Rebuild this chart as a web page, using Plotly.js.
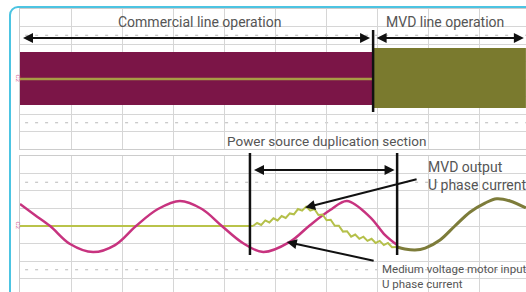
<!DOCTYPE html>
<html>
<head>
<meta charset="utf-8">
<script src="https://cdn.plot.ly/plotly-3.0.1.min.js"></script>
<style>
html,body{margin:0;padding:0;background:#fff;overflow:hidden;width:526px;height:292px;}
#chart{position:absolute;left:0;top:0;width:526px;height:292px;}
#frame{position:absolute;left:9px;top:6px;width:700px;height:500px;border:2px solid #4cc4e2;border-radius:9px;pointer-events:none;box-sizing:border-box;}
</style>
</head>
<body>
<div id="chart"></div>
<div id="frame"></div>
<script>
// ---- data (x in oscilloscope divisions, y in divisions) ----
// Upper trace: compressed time base
const commercialSpan = [0, 6.91];
const commercialTop = [1.54, 1.54];
const commercialBottom = [-1.49, -1.49];
const commercialCenter = [0, 0];
const mvdSpan = [6.91, 9.9];
const mvdTop = [1.77, 1.77];
const mvdBottom = [-1.66, -1.66];

// Lower trace: medium voltage motor input U phase current
const motorX = [0, 0.29, 0.59, 0.98, 1.43, 1.86, 2.27, 2.70, 3.13, 3.56, 3.95, 4.36, 4.76, 5.28, 5.68, 6.07, 6.40, 6.85, 7.14, 7.38];
const motorY = [1.26, 0.63, 0, -1.03, -1.49, -1.09, 0, 0.97, 1.43, 0.97, 0, -0.97, -1.49, -0.91, 0.06, 0.91, 1.43, 0.51, -0.51, -1.09];

// MVD output U phase current (before/within duplication section)
const mvdIdleX = [0, 4.56];
const mvdIdleY = [0, 0];
const mvdRampX = [4.56, 4.64, 4.72, 4.80, 4.88, 4.96, 5.04, 5.12, 5.20, 5.28, 5.36, 5.44, 5.52, 5.60, 5.68, 5.76, 5.84, 5.92, 6.00, 6.08, 6.16, 6.24, 6.32, 6.40, 6.48, 6.56, 6.64, 6.72, 6.80, 6.88, 6.96, 7.04, 7.12, 7.20, 7.28, 7.38];
const mvdRampY = [0.00, 0.17, 0.06, 0.32, 0.20, 0.44, 0.32, 0.57, 0.46, 0.72, 0.67, 0.97, 0.88, 1.11, 0.88, 0.97, 0.63, 0.66, 0.33, 0.36, 0.01, 0.02, -0.32, -0.30, -0.61, -0.49, -0.73, -0.61, -0.85, -0.73, -0.97, -0.85, -1.09, -0.97, -1.21, -1.20];
// MVD output after switch-over
const mvdRunX = [7.38, 7.53, 7.73, 7.93, 8.22, 8.51, 8.81, 9.10, 9.33, 9.59, 9.90];
const mvdRunY = [-1.20, -1.31, -1.37, -1.26, -0.80, 0, 0.80, 1.31, 1.56, 1.43, 1.03];

const txtFont = 'Roboto, "DejaVu Sans", sans-serif';
const txtColor = '#555555';

const traces = [
  {x: commercialSpan, y: commercialBottom, xaxis: 'x2', yaxis: 'y2', mode: 'lines', line: {width: 0, color: '#7b1547'}, hoverinfo: 'skip'},
  {x: commercialSpan, y: commercialTop, xaxis: 'x2', yaxis: 'y2', mode: 'lines', fill: 'tonexty', fillcolor: '#7b1547', line: {width: 0, color: '#7b1547'}, hoverinfo: 'skip'},
  {x: mvdSpan, y: mvdBottom, xaxis: 'x2', yaxis: 'y2', mode: 'lines', line: {width: 0, color: '#7a7a2e'}, hoverinfo: 'skip'},
  {x: mvdSpan, y: mvdTop, xaxis: 'x2', yaxis: 'y2', mode: 'lines', fill: 'tonexty', fillcolor: '#7a7a2e', line: {width: 0, color: '#7a7a2e'}, hoverinfo: 'skip'},
  {x: commercialSpan, y: commercialCenter, xaxis: 'x2', yaxis: 'y2', mode: 'lines', line: {width: 2.5, color: '#a89c45'}, hoverinfo: 'skip'},
  {x: mvdIdleX, y: mvdIdleY, xaxis: 'x', yaxis: 'y', mode: 'lines', line: {width: 2, color: '#b9c34a'}, hoverinfo: 'skip'},
  {x: motorX, y: motorY, xaxis: 'x', yaxis: 'y', mode: 'lines', line: {width: 2.5, color: '#c7337f', shape: 'spline', smoothing: 1}, hoverinfo: 'skip'},
  {x: mvdRampX, y: mvdRampY, xaxis: 'x', yaxis: 'y', mode: 'lines', line: {width: 2, color: '#b5c04a'}, hoverinfo: 'skip'},
  {x: mvdRunX, y: mvdRunY, xaxis: 'x', yaxis: 'y', mode: 'lines', line: {width: 3, color: '#7d7c3a', shape: 'spline', smoothing: 1}, hoverinfo: 'skip'}
];

const gridCol = '#d6d6d6';
const axX = {range: [0, 9.902], dtick: 1, tick0: 0, showgrid: true, gridcolor: gridCol, gridwidth: 1,
  showticklabels: false, ticks: '', zeroline: false, showline: true, mirror: true, linecolor: '#cccccc', linewidth: 1, fixedrange: true};
const axYcommon = {dtick: 1, tick0: 0, showgrid: true, gridcolor: gridCol, gridwidth: 1,
  showticklabels: false, ticks: '', zeroline: false, showline: true, mirror: true, linecolor: '#cccccc', linewidth: 1, fixedrange: true};

function dotted(yref, yv) {
  return {type: 'line', xref: yref === 'y' ? 'x' : 'x2', yref: yref, x0: 0.1, x1: 9.9, y0: yv, y1: yv,
    line: {color: '#b8b8b8', width: 1, dash: '3px,7px'}, layer: 'below'};
}

const layout = {
  width: 526, height: 292,
  margin: {l: 20, r: 0, t: 9, b: 0},
  paper_bgcolor: '#ffffff', plot_bgcolor: '#ffffff',
  showlegend: false,
  xaxis: Object.assign({}, axX, {domain: [0, 1], anchor: 'y'}),
  xaxis2: Object.assign({}, axX, {domain: [0, 1], anchor: 'y2', matches: 'x'}),
  yaxis: Object.assign({}, axYcommon, {domain: [0, 0.4806], range: [-3.771, 4], anchor: 'x'}),
  yaxis2: Object.assign({}, axYcommon, {domain: [0.5053, 1], range: [-4, 4], anchor: 'x2'}),
  shapes: [
    dotted('y2', 2.5), dotted('y2', -2.5), dotted('y', 2.5), dotted('y', -2.5),
    {type: 'line', xref: 'x2', yref: 'paper', x0: 6.91, x1: 6.91, y0: (292 - 30) / 283, y1: (292 - 112) / 283, line: {color: '#111', width: 2.5}, layer: 'above'},
    {type: 'line', xref: 'x', yref: 'paper', x0: 4.50, x1: 4.50, y0: (292 - 153) / 283, y1: (292 - 255) / 283, line: {color: '#111', width: 2.5}, layer: 'above'},
    {type: 'line', xref: 'x', yref: 'paper', x0: 7.38, x1: 7.38, y0: (292 - 153) / 283, y1: (292 - 255) / 283, line: {color: '#111', width: 2.5}, layer: 'above'}
  ],
  annotations: [
    {xref: 'x2', yref: 'y2', x: 3.52, y: 3.26, text: 'Commercial line operation', showarrow: false, font: {family: txtFont, size: 14, color: txtColor}},
    {xref: 'x2', yref: 'y2', x: 8.32, y: 3.26, text: 'MVD line operation', showarrow: false, font: {family: txtFont, size: 14, color: txtColor}},
    {xref: 'x2', yref: 'y2', x: 6.85, y: 2.34, ax: 0.03, ay: 2.34, axref: 'x2', ayref: 'y2', text: '', showarrow: true, arrowside: 'end+start', arrowhead: 2, arrowsize: 1, arrowwidth: 2, arrowcolor: '#111'},
    {xref: 'x2', yref: 'y2', x: 9.86, y: 2.34, ax: 6.95, ay: 2.34, axref: 'x2', ayref: 'y2', text: '', showarrow: true, arrowside: 'end+start', arrowhead: 2, arrowsize: 1, arrowwidth: 2, arrowcolor: '#111'},
    {xref: 'x', yref: 'paper', x: 6.0, y: (292 - 141) / 283, text: 'Power source duplication section', showarrow: false, font: {family: txtFont, size: 13.5, color: txtColor}},
    {xref: 'x', yref: 'y', x: 7.33, y: 3.2, ax: 4.55, ay: 3.2, axref: 'x', ayref: 'y', text: '', showarrow: true, arrowside: 'end+start', arrowhead: 2, arrowsize: 1, arrowwidth: 2, arrowcolor: '#111'},
    {xref: 'x', yref: 'y', x: 7.95, y: 2.86, xanchor: 'left', yanchor: 'middle', align: 'left', text: 'MVD output<br>U phase current', showarrow: false, font: {family: txtFont, size: 14, color: txtColor}},
    {xref: 'x', yref: 'y', x: 5.58, y: 1.05, ax: 7.79, ay: 2.69, axref: 'x', ayref: 'y', text: '', showarrow: true, arrowhead: 2, arrowsize: 1, arrowwidth: 2, arrowcolor: '#111', standoff: 0},
    {xref: 'x', yref: 'y', x: 5.22, y: -0.91, ax: 6.95, ay: -2.0, axref: 'x', ayref: 'y', text: '', showarrow: true, arrowhead: 2, arrowsize: 1, arrowwidth: 2, arrowcolor: '#111', standoff: 0},
    {xref: 'x', yref: 'y', x: 7.04, y: -2.86, xanchor: 'left', yanchor: 'middle', align: 'left', text: 'Medium voltage motor input<br>U phase current', showarrow: false, font: {family: txtFont, size: 11.5, color: txtColor}},
    {xref: 'paper', yref: 'y2', x: -0.012, y: 0, text: 'C2', textangle: 90, showarrow: false, font: {family: txtFont, size: 6, color: '#d46aa0'}},
    {xref: 'paper', yref: 'y', x: -0.012, y: 0, text: 'C2', textangle: 90, showarrow: false, font: {family: txtFont, size: 6, color: '#d46aa0'}}
  ]
};

Plotly.newPlot('chart', traces, layout, {staticPlot: true, displayModeBar: false});
</script>
</body>
</html>
